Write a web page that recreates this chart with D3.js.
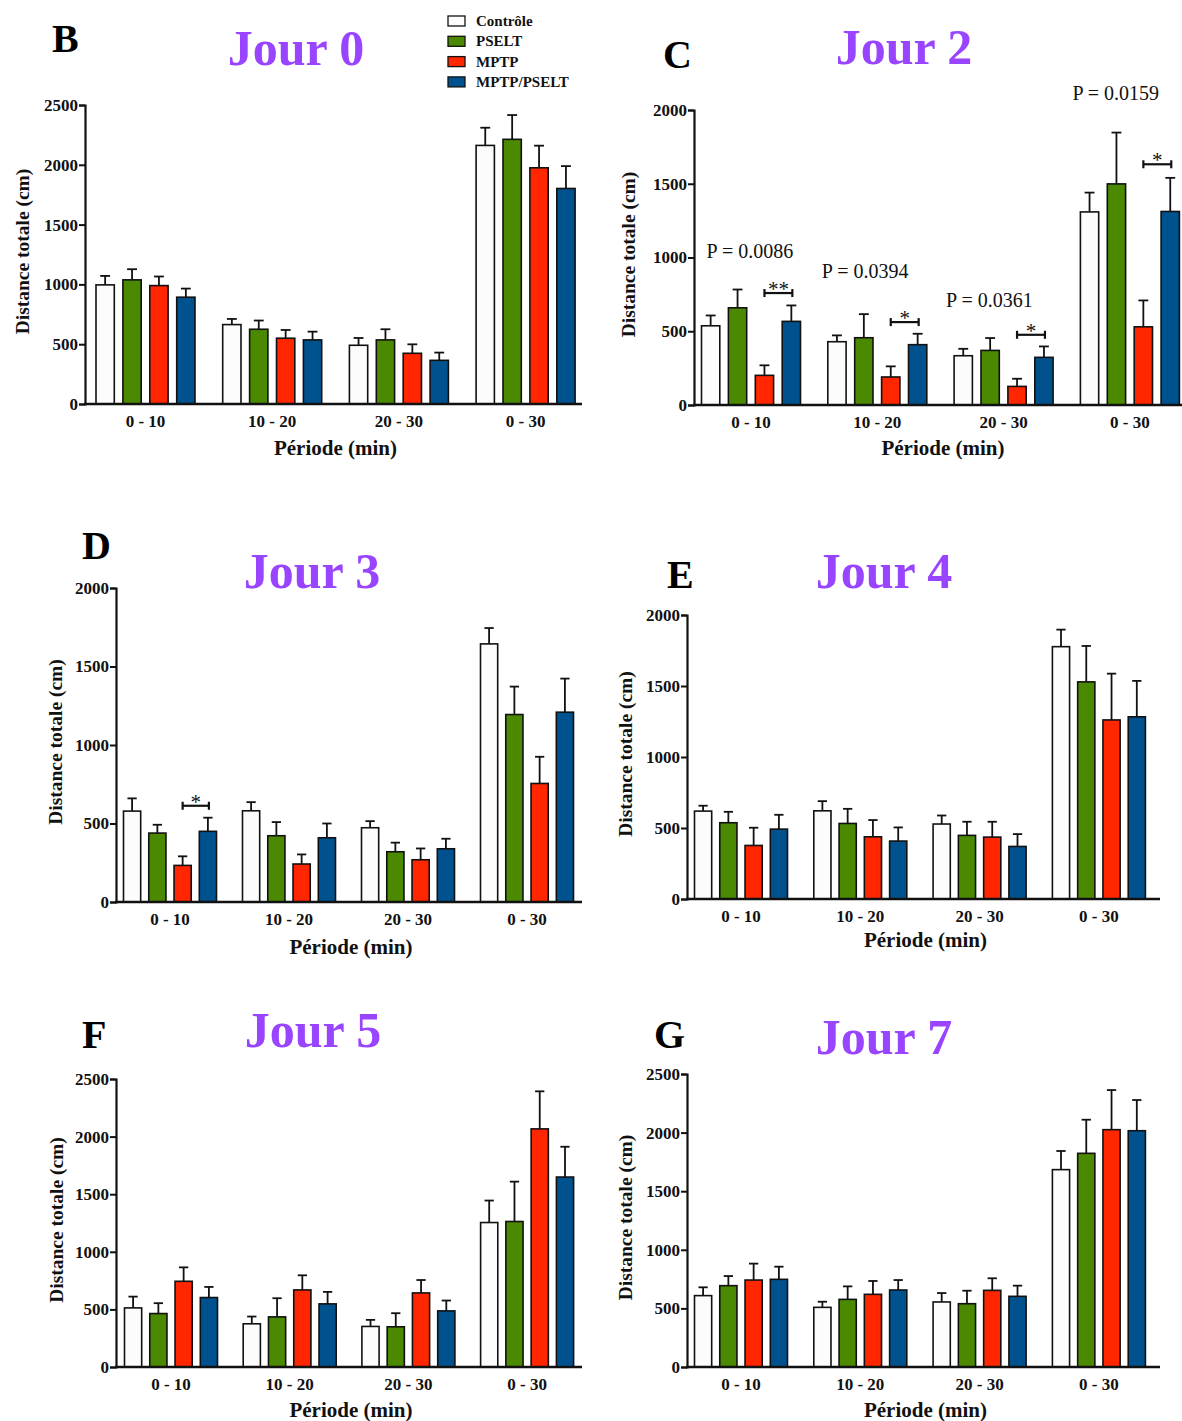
<!DOCTYPE html>
<html><head><meta charset="utf-8">
<script src="https://cdn.jsdelivr.net/npm/d3@7"></script>
<style>
html,body{margin:0;padding:0;background:#fff;}
svg text{font-family:"Liberation Serif","Times New Roman",serif;}
</style></head>
<body>
<svg id="chart" width="1182" height="1421"></svg>
<script>
// ---------- DATA ----------
const groups = ["0 - 10", "10 - 20", "20 - 30", "0 - 30"];
const series = ["Contrôle", "PSELT", "MPTP", "MPTP/PSELT"];

// mean values per group (rows) and series (columns)
const meanJour0 = [[996,1038,990,893],[664,625,550,536],[491,536,424,365],[2162,2213,1975,1802]];
const semJour0  = [[75,89,76,72],[47,73,69,69],[61,89,75,65],[148,203,185,187]];

const meanJour2 = [[537,659,201,567],[429,456,190,409],[334,370,126,323],[1309,1499,530,1312]];
const semJour2  = [[70,124,68,108],[43,160,72,74],[47,84,52,74],[131,348,179,228]];

const meanJour3 = [[579,439,233,450],[581,422,242,409],[473,320,269,339],[1644,1194,755,1209]];
const semJour3  = [[81,53,58,87],[55,87,61,91],[42,58,72,64],[101,178,170,214]];

const meanJour4 = [[619,537,377,492],[621,532,438,408],[528,448,436,370],[1777,1529,1261,1283]];
const semJour4  = [[38,77,125,101],[68,103,118,96],[60,96,108,87],[120,253,326,253]];

const meanJour5 = [[513,464,744,603],[375,435,669,548],[352,349,643,487],[1254,1263,2067,1649]];
const semJour5  = [[98,90,121,92],[63,162,127,104],[57,118,112,90],[191,346,326,263]];

const meanJour7 = [[609,694,742,748],[509,577,620,657],[555,540,654,603],[1684,1823,2025,2016]];
const semJour7  = [[71,82,140,108],[48,111,114,85],[76,111,103,91],[159,287,338,262]];

// Jour 2 statistics annotations
const pTexts2   = ["P = 0.0086", "P = 0.0394", "P = 0.0361", "P = 0.0159"];
const pLevels2  = [997, 861, 664, 2068];
const stars2    = ["**", "*", "*", "*"];
const bracket2  = [759, 562, 476, 1632];
// Jour 3 annotation
const stars3    = ["*"];
const bracket3  = [613];

const yTicks2500 = [0, 500, 1000, 1500, 2000, 2500];
const yTicks2000 = [0, 500, 1000, 1500, 2000];

// ---------- STYLE / LAYOUT ----------
const colors = ["#fcfcfc", "#4b8a00", "#ff2600", "#00528f"];
const purple = "#9944ff";

const panels = [
  {letter:"B", title:"Jour 0", mean:meanJour0, sem:semJour0, ticks:yTicks2500, yMax:2500,
   left:85, right:582, top:105, bottom:404, gs:96, step:126.7, gw:99,
   titleX:296, titleY:65, letterX:52, letterY:52, yLabelX:22, xLabelY:455},
  {letter:"C", title:"Jour 2", mean:meanJour2, sem:semJour2, ticks:yTicks2000, yMax:2000,
   left:694, right:1190, top:110, bottom:405, gs:701.5, step:126.3, gw:99,
   titleX:904, titleY:64, letterX:663, letterY:68, yLabelX:628, xLabelY:455, xLabelX:943,
   ann:{p:pTexts2, pLevels:pLevels2, pOff:[5,-6,-8,-8], stars:stars2, bracket:bracket2, groupIdx:[0,1,2,3]}},
  {letter:"D", title:"Jour 3", mean:meanJour3, sem:semJour3, ticks:yTicks2000, yMax:2000,
   left:116, right:582, top:588, bottom:902, gs:123.5, step:119, gw:93,
   titleX:312, titleY:588, letterX:82, letterY:559, yLabelX:55, xLabelY:954,
   ann:{stars:stars3, bracket:bracket3, groupIdx:[0]}},
  {letter:"E", title:"Jour 4", mean:meanJour4, sem:semJour4, ticks:yTicks2000, yMax:2000,
   left:687, right:1160, top:615, bottom:899, gs:694.5, step:119.3, gw:93,
   titleX:884, titleY:588, letterX:667, letterY:588, yLabelX:625, xLabelY:947},
  {letter:"F", title:"Jour 5", mean:meanJour5, sem:semJour5, ticks:yTicks2500, yMax:2500,
   left:116, right:582, top:1079, bottom:1367, gs:124.5, step:118.7, gw:93,
   titleX:313, titleY:1047, letterX:82, letterY:1048, yLabelX:56, xLabelY:1417},
  {letter:"G", title:"Jour 7", mean:meanJour7, sem:semJour7, ticks:yTicks2500, yMax:2500,
   left:687, right:1160, top:1074, bottom:1367, gs:694.5, step:119.3, gw:93,
   titleX:884, titleY:1054, letterX:654, letterY:1048, yLabelX:625, xLabelY:1417}
];

const svg = d3.select("#chart");

function drawPanel(p) {
  const g = svg.append("g");
  const y = d3.scaleLinear().domain([0, p.yMax]).range([p.bottom, p.top]);
  const x0 = d3.scaleBand().domain(groups)
    .range([p.gs, p.gs + 3 * p.step + p.gw])
    .paddingInner(1 - p.gw / p.step).paddingOuter(0);
  const x1 = d3.scaleBand().domain(series).range([0, x0.bandwidth()])
    .paddingInner(0.32).paddingOuter(0);
  const bw = x1.bandwidth();

  // bars
  groups.forEach((grp, gi) => {
    const gg = g.append("g").attr("transform", `translate(${x0(grp)},0)`);
    series.forEach((s, si) => {
      const v = p.mean[gi][si], e = p.sem[gi][si];
      const cx = x1(s) + bw / 2;
      // error bar (upper only)
      gg.append("line").attr("x1", cx).attr("x2", cx)
        .attr("y1", y(v)).attr("y2", y(v + e))
        .attr("stroke", "#111").attr("stroke-width", 1.8);
      gg.append("line").attr("x1", cx - bw * 0.27).attr("x2", cx + bw * 0.27)
        .attr("y1", y(v + e)).attr("y2", y(v + e))
        .attr("stroke", "#111").attr("stroke-width", 1.8);
      gg.append("rect").attr("x", x1(s)).attr("width", bw)
        .attr("y", y(v)).attr("height", y(0) - y(v))
        .attr("fill", colors[si]).attr("stroke", "#111").attr("stroke-width", 1.6);
    });
  });

  // y axis
  const yAxis = d3.axisLeft(y).tickValues(p.ticks).tickSize(6).tickPadding(1).tickFormat(d3.format("d"));
  const ya = g.append("g").attr("transform", `translate(${p.left},0)`).call(yAxis);
  ya.select(".domain").attr("stroke", "#111").attr("stroke-width", 2.2);
  ya.selectAll(".tick line").attr("stroke", "#111").attr("stroke-width", 2);
  ya.selectAll(".tick text").attr("font-size", 17).attr("font-weight", "bold")
    .attr("fill", "#111").attr("font-family", "Liberation Serif, serif");

  // x axis
  g.append("line").attr("x1", p.left - 1).attr("x2", p.right)
    .attr("y1", p.bottom).attr("y2", p.bottom)
    .attr("stroke", "#111").attr("stroke-width", 2.6);
  groups.forEach(grp => {
    g.append("text").attr("x", x0(grp) + x0.bandwidth() / 2).attr("y", p.bottom + 23)
      .attr("text-anchor", "middle").attr("font-size", 17).attr("font-weight", "bold")
      .attr("fill", "#111").text(grp);
  });

  // axis labels
  const xlx = p.xLabelX !== undefined ? p.xLabelX : (p.left + p.right) / 2 + 2;
  g.append("text").attr("x", xlx).attr("y", p.xLabelY)
    .attr("text-anchor", "middle").attr("font-size", 21).attr("font-weight", "bold")
    .attr("fill", "#111").text("Période (min)");
  g.append("text")
    .attr("transform", `translate(${p.yLabelX},${(p.top + p.bottom) / 2 - 3}) rotate(-90)`)
    .attr("text-anchor", "middle").attr("dy", "0.35em")
    .attr("font-size", 19.5).attr("font-weight", "bold").attr("fill", "#111")
    .text("Distance totale (cm)");

  // title & letter
  g.append("text").attr("x", p.titleX).attr("y", p.titleY).attr("text-anchor", "middle")
    .attr("font-size", 50).attr("font-weight", "bold").attr("fill", purple).text(p.title);
  g.append("text").attr("x", p.letterX).attr("y", p.letterY)
    .attr("font-size", 40).attr("font-weight", "bold").attr("fill", "#000").text(p.letter);

  // annotations
  if (p.ann) {
    const a = p.ann;
    a.groupIdx.forEach((gi, k) => {
      const grp = groups[gi];
      const xa = x0(grp) + x1(series[2]) + bw / 2;
      const xb = x0(grp) + x1(series[3]) + bw / 2 + 1;
      const yb = y(a.bracket[k]);
      g.append("line").attr("x1", xa).attr("x2", xb).attr("y1", yb).attr("y2", yb)
        .attr("stroke", "#111").attr("stroke-width", 2.2);
      [xa, xb].forEach(xx => g.append("line").attr("x1", xx).attr("x2", xx)
        .attr("y1", yb - 4).attr("y2", yb + 4).attr("stroke", "#111").attr("stroke-width", 2.2));
      g.append("text").attr("x", (xa + xb) / 2).attr("y", yb + 3).attr("text-anchor", "middle")
        .attr("font-size", 21).attr("fill", "#111").text(a.stars[k]);
      if (a.p) {
        g.append("text").attr("x", x0(grp) + a.pOff[k]).attr("y", y(a.pLevels[k]))
          .attr("font-size", 20).attr("fill", "#111").text(a.p[k]);
      }
    });
  }
}

panels.forEach(drawPanel);

// legend (panel B)
const legend = svg.append("g").attr("transform", "translate(448,16)");
series.forEach((s, i) => {
  legend.append("rect").attr("x", 0).attr("y", i * 20.3).attr("width", 17).attr("height", 10)
    .attr("fill", colors[i]).attr("stroke", "#111").attr("stroke-width", 1.3);
  legend.append("text").attr("x", 28).attr("y", i * 20.3 + 10)
    .attr("font-size", 15).attr("font-weight", "bold").attr("fill", "#111").text(s);
});
</script>
</body></html>
